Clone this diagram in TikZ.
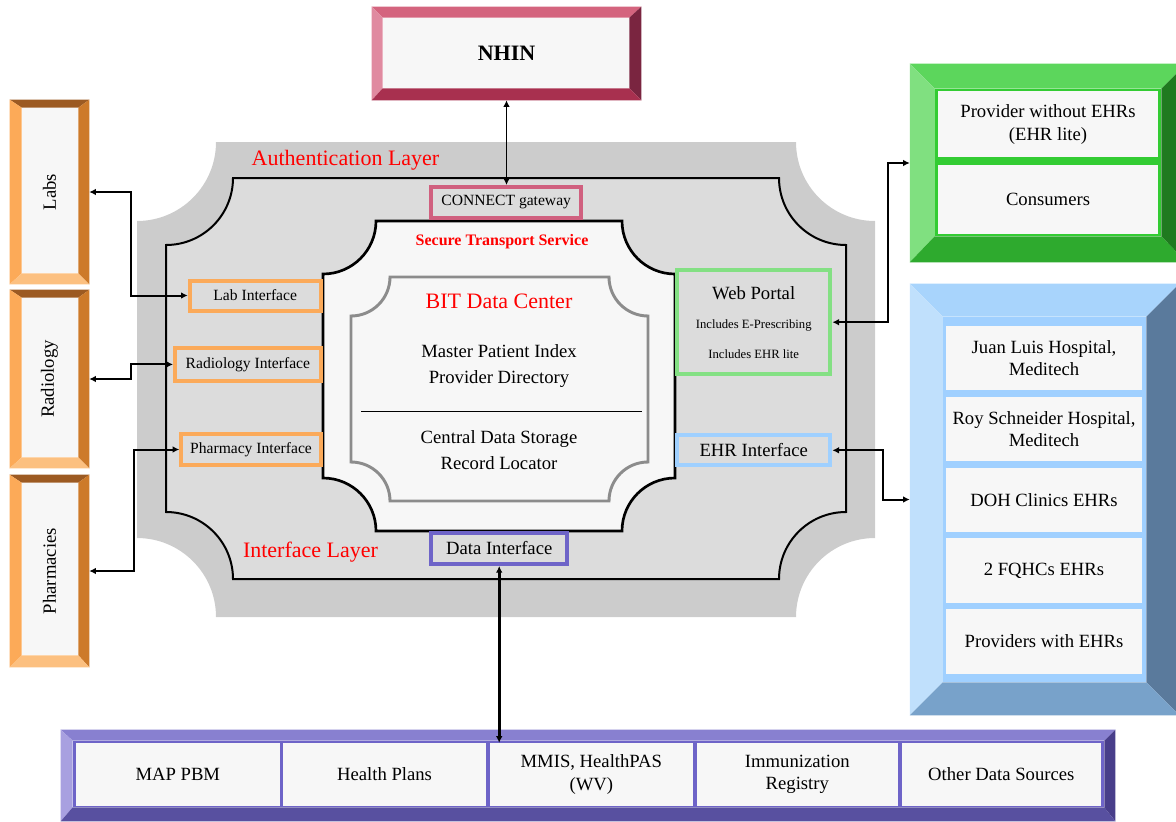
\documentclass[tikz,border=0pt]{standalone}
\usepackage{fontspec}
\setmainfont{Liberation Serif}
\usetikzlibrary{arrows.meta,calc,positioning}

\definecolor{face}{HTML}{F7F7F7}
\definecolor{layerout}{HTML}{CCCCCC}
\definecolor{layerin}{HTML}{DCDCDC}
\definecolor{bitgray}{HTML}{8C8C8C}
\definecolor{pinkT}{HTML}{D4647E}\definecolor{pinkL}{HTML}{E08AA0}\definecolor{pinkR}{HTML}{7A2540}\definecolor{pinkB}{HTML}{A8304F}
\definecolor{orangeT}{HTML}{9C5A22}\definecolor{orangeL}{HTML}{FCAA58}\definecolor{orangeR}{HTML}{CD7A2A}\definecolor{orangeB}{HTML}{FCC080}
\definecolor{greenT}{HTML}{5CD65C}\definecolor{greenL}{HTML}{80E080}\definecolor{greenR}{HTML}{1F7A1F}\definecolor{greenB}{HTML}{2EAA2E}\definecolor{greenF}{HTML}{33CC33}
\definecolor{blueT}{HTML}{A8D4FC}\definecolor{blueL}{HTML}{C0E0FC}\definecolor{blueR}{HTML}{5A7A9C}\definecolor{blueB}{HTML}{78A2CA}\definecolor{blueF}{HTML}{A0D0FF}
\definecolor{violetT}{HTML}{8880D0}\definecolor{violetL}{HTML}{A8A0E0}\definecolor{violetR}{HTML}{483E8A}\definecolor{violetB}{HTML}{5850A0}\definecolor{violetF}{HTML}{6E64C8}
\definecolor{ifOrange}{HTML}{FBAA5A}
\definecolor{ifPink}{HTML}{D0607F}
\definecolor{ifGreen}{HTML}{84E084}
\definecolor{ifBlue}{HTML}{9FD0FF}
\definecolor{ifViolet}{HTML}{6E64C8}

% node, left, top, right, bottom, colour prefix, face colour
\newcommand{\bevel}[7]{%
	\fill[#6T] (#1.north west) -- (#1.north east) -- ($(#1.north east)+(-#4,#3)$) -- ($(#1.north west)+(#2,#3)$) -- cycle;
	\fill[#6L] (#1.north west) -- ($(#1.north west)+(#2,#3)$) -- ($(#1.south west)+(#2,-#5)$) -- (#1.south west) -- cycle;
	\fill[#6R] (#1.north east) -- ($(#1.north east)+(-#4,#3)$) -- ($(#1.south east)+(-#4,-#5)$) -- (#1.south east) -- cycle;
	\fill[#6B] (#1.south west) -- ($(#1.south west)+(#2,-#5)$) -- ($(#1.south east)+(-#4,-#5)$) -- (#1.south east) -- cycle;
	\fill[#7] ($(#1.north west)+(#2,#3)$) rectangle ($(#1.south east)+(-#4,-#5)$);
}
% style, x1, y1, x2, y2, corner radius (corners cut inwards)
\newcommand{\notched}[6]{%
	\draw[#1] (#2+#6,#3) -- (#4-#6,#3)
		.. controls (#4-#6,#3+0.5523*#6) and (#4-0.5523*#6,#3+#6) .. (#4,#3+#6)
		-- (#4,#5-#6)
		.. controls (#4-0.5523*#6,#5-#6) and (#4-#6,#5-0.5523*#6) .. (#4-#6,#5)
		-- (#2+#6,#5)
		.. controls (#2+#6,#5-0.5523*#6) and (#2+0.5523*#6,#5-#6) .. (#2,#5-#6)
		-- (#2,#3+#6)
		.. controls (#2+0.5523*#6,#3+#6) and (#2+#6,#3+0.5523*#6) .. (#2+#6,#3) -- cycle;
}

\begin{document}
\begin{tikzpicture}[x=0.75pt,y=-0.75pt]
	\tikzset{sz/.style 2 args={minimum width=#1*0.75pt, minimum height=#2*0.75pt},
		shell/.style={inner sep=0pt},
		head/.style={font=\bfseries\fontsize{16.5}{19}\selectfont},
		lbl/.style={font=\fontsize{14}{17}\selectfont, align=center, inner sep=0pt},
		layer/.style={font=\fontsize{16.5}{19}\selectfont, text=red, inner sep=0pt},
		iface/.style={draw, line width=3pt, fill=layerin, inner sep=0pt, font=\fontsize{11.7}{14}\selectfont},
		cell/.style={fill=face, inner sep=0pt, align=center, font=\fontsize{14}{17}\selectfont},
		link/.style={line width=1.5pt, {Latex[length=5pt,width=5pt]}-{Latex[length=5pt,width=5pt]}}}
	\useasboundingbox (0,0) rectangle (1176,821);
	\clip (0,0) rectangle (1176,821);

	\node [shell, sz={269}{93}]		(nhin)	at (506.5,53.5)	{};
	\bevel{nhin}{11}{11}{12}{12}{pink}{face}
		\node [head]		(nhinT)	at (nhin)	{NHIN};

	\node [shell, sz={79}{184}]		(labs)	at (49.5,192)	{};
	\bevel{labs}{12}{8}{11}{11}{orange}{face}
		\node [lbl, rotate=90]	(labsT)	at (labs)	{Labs};
	\node [shell, sz={79}{178}]		(rady)	at (49.5,379)	{};
	\bevel{rady}{12}{8}{11}{11}{orange}{face}
		\node [lbl, rotate=90]	(radyT)	at (rady)	{Radiology};
	\node [shell, sz={79}{192}]		(phar)	at (49.5,571)	{};
	\bevel{phar}{12}{8}{11}{12}{orange}{face}
		\node [lbl, rotate=90]	(pharT)	at (phar)	{Pharmacies};

	\notched{fill=layerout, draw=none}{137}{142}{875}{617}{79}
	\notched{fill=layerin, draw=black, line width=1.5pt}{166}{178}{846}{579}{67}
	\notched{fill=face, draw=black, line width=2pt}{323}{221}{675}{531}{53}
	\notched{draw=bitgray, line width=2.2pt}{351}{277}{648}{501}{39}
	\draw [line width=0.8pt] (361,411.7) -- (641.7,411.7);

	\node [layer]			(authL)	at (345.5,160)	{Authentication Layer};
	\node [layer]			(intfL)	at (310.5,552)	{Interface Layer};
	\node [font=\bfseries\fontsize{12}{14}\selectfont, text=red]	(stsL)	at (502,242)	{Secure Transport Service};
	\node [layer]			(bitL)	at (499,301)	{BIT Data Center};
	\node [lbl, font=\fontsize{14}{19.5}\selectfont]	(mpiL)	at (499,366)	{Master Patient Index\\Provider Directory};
	\node [lbl, font=\fontsize{14}{19.5}\selectfont]	(cdsL)	at (499,450.5)	{Central Data Storage\\Record Locator};

	\node [iface, draw=ifPink, sz={150.3}{31}]		(cgw)	at (506.2,202.5)	{CONNECT gateway};
	\node [iface, draw=ifOrange, sz={131}{30}]		(labi)	at (255.2,295.5)	{Lab Interface};
	\node [iface, draw=ifOrange, sz={145.7}{32.7}]		(radi)	at (247.9,364.4)	{Radiology Interface};
	\node [iface, draw=ifOrange, sz={139.4}{31.6}]		(phai)	at (251,449.5)	{Pharmacy Interface};
	\node [iface, draw=ifGreen, sz={153.3}{103.7}]		(web)	at (753.7,322.2)	{};
		\node [lbl]		(webA)	at (753.7,293)	{Web Portal};
		\node [font=\fontsize{9.5}{11}\selectfont]	(webB)	at (753.7,325)	{Includes E-Prescribing};
		\node [font=\fontsize{9.5}{11}\selectfont]	(webC)	at (753.7,354)	{Includes EHR lite};
	\node [iface, draw=ifBlue, font=\fontsize{14}{17}\selectfont, sz={153.3}{30}]		(ehri)	at (753.7,450.3)	{EHR Interface};
	\node [iface, draw=ifViolet, font=\fontsize{14}{17}\selectfont, sz={135.7}{31}]		(dati)	at (499.2,548.5)	{Data Interface};

	\node [shell, sz={276}{198}]		(prov)	at (1048,163)	{};
	\bevel{prov}{25}{25}{25}{26}{green}{greenF}
		\node [cell, sz={220.6}{66.3}]	(pwo)	at (1048,124.2)	{Provider without EHRs\\(EHR lite)};
		\node [cell, sz={220.6}{69}]	(cons)	at (1048,199.5)	{Consumers};

	\node [shell, sz={269}{431}]		(ehrs)	at (1044.5,499.5)	{};
	\bevel{ehrs}{33}{33}{33}{33}{blue}{blueF}
		\node [cell, sz={196.6}{64.4}]	(jlh)	at (1044,358.2)	{Juan Luis Hospital,\\Meditech};
		\node [cell, sz={196.6}{64.4}]	(rsh)	at (1044,429)	{Roy Schneider Hospital,\\Meditech};
		\node [cell, sz={196.6}{64.4}]	(doh)	at (1044,499.8)	{DOH Clinics EHRs};
		\node [cell, sz={196.6}{64.4}]	(fqhc)	at (1044,570.6)	{2 FQHCs EHRs};
		\node [cell, sz={196.6}{64.4}]	(pwe)	at (1044,641.4)	{Providers with EHRs};

	\node [shell, sz={1054}{91}]		(srcs)	at (588,775.5)	{};
	\bevel{srcs}{12}{11}{11}{14}{violet}{violetF}
		\node [cell, sz={203.5}{62.5}]	(mapc)	at (177.8,774.3)	{MAP PBM};
		\node [cell, sz={203}{62.5}]	(hplc)	at (384.5,774.3)	{Health Plans};
		\node [cell, sz={203.5}{62.5}]	(mmisc)	at (591.3,774.3)	{MMIS, HealthPAS\\(WV)};
		\node [cell, sz={201.5}{62.5}]	(immc)	at (797.3,774.3)	{Immunization\\Registry};
		\node [cell, sz={199.5}{62.5}]	(othc)	at (1001.3,774.3)	{Other Data Sources};

	\draw [link, line width=1pt] (nhin.south) -- (nhin.south |- cgw.north);
	\draw [link] (labs.east) -- ++(42,0) |- (labi.west);
	\draw [link] (rady.east) -- ++(42,0) |- (radi.west);
	\draw [link] (phar.east) -- ++(45,0) |- (phai.west);
	\draw [link] (web.east) -- ++(56,0) |- (prov.west);
	\draw [link] (ehri.east) -- ++(51,0) |- (ehrs.west);
	\draw [link, line width=2pt] (dati.south) -- (dati.south |- mmisc.north);
\end{tikzpicture}
\end{document}
